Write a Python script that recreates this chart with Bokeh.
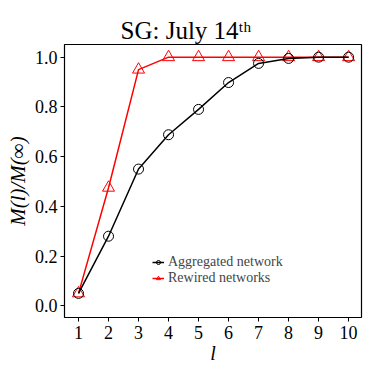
from bokeh.plotting import figure
from bokeh.models import Range1d, Legend, LegendItem, FixedTicker, CustomJSTickFormatter
from bokeh.embed import file_html
from bokeh.resources import INLINE

l_vals = [1, 2, 3, 4, 5, 6, 7, 8, 9, 10]
aggregated = [0.05, 0.28, 0.55, 0.688, 0.79, 0.898, 0.975, 0.995, 1.0, 1.0]
rewired = [0.05, 0.475, 0.95, 1.0, 1.0, 1.0, 1.0, 1.0, 1.0, 1.0]
y_ticks = [0.0, 0.2, 0.4, 0.6, 0.8, 1.0]
title_text = "SG: July 14ᵗʰ"

FONT = "Liberation Serif"

p = figure(width=366, height=366, output_backend="svg", toolbar_location=None,
           x_range=Range1d(0.533, 10.43), y_range=Range1d(-0.047, 1.051),
           min_border_left=64, min_border_top=44, min_border_right=5, min_border_bottom=42)
p.grid.visible = False
p.outline_line_color = "black"
p.outline_line_width = 1.2
p.background_fill_color = "white"
p.border_fill_color = "white"

p.title.text = title_text
p.title.text_font = FONT
p.title.text_font_size = "25px"
p.title.text_font_style = "normal"
p.title.text_color = "black"
p.title.align = "left"
p.title.offset = 56
p.title.standoff = 1

for ax in (p.xaxis, p.yaxis):
    ax.axis_line_color = None
    ax.major_tick_line_color = "black"
    ax.major_tick_in = 0
    ax.major_tick_out = 4
    ax.minor_tick_line_color = None
    ax.major_label_text_font = FONT
    ax.major_label_text_font_size = "18px"
    ax.major_label_text_color = "black"
    ax.axis_label_text_font = FONT
    ax.axis_label_text_font_style = "italic"
    ax.axis_label_text_color = "black"

p.xaxis.axis_label_text_font_size = "20px"
p.yaxis.axis_label_text_font_size = "21px"
p.xaxis.ticker = FixedTicker(ticks=l_vals)
p.yaxis.ticker = FixedTicker(ticks=y_ticks)
p.yaxis.formatter = CustomJSTickFormatter(code="return tick.toFixed(1);")
p.xaxis.axis_label = "l"
p.yaxis.axis_label = "M(l)/M(∞)"
p.xaxis.major_label_standoff = 4
p.yaxis.major_label_standoff = 3
p.xaxis.axis_label_standoff = 0
p.yaxis.axis_label_standoff = 2

r_line = p.line(l_vals, rewired, line_color="red", line_width=1.5)
r_mark = p.scatter(l_vals, rewired, marker="triangle", size=12, fill_color=None,
                   line_color="red", line_width=1)
a_line = p.line(l_vals, aggregated, line_color="black", line_width=1.5)
a_mark = p.scatter(l_vals, aggregated, marker="circle", size=10, fill_color=None,
                   line_color="black", line_width=1)

legend = Legend(items=[LegendItem(label="Aggregated network", renderers=[a_line, a_mark]),
                       LegendItem(label="Rewired networks", renderers=[r_line, r_mark])],
                location=(88, 31), label_text_font=FONT, label_text_font_size="14px",
                glyph_width=12, glyph_height=10, label_height=10, spacing=0, padding=0,
                margin=0, border_line_color=None, background_fill_alpha=0,
                label_standoff=4)
p.add_layout(legend)

open("out.html", "w").write(file_html(p, INLINE))
